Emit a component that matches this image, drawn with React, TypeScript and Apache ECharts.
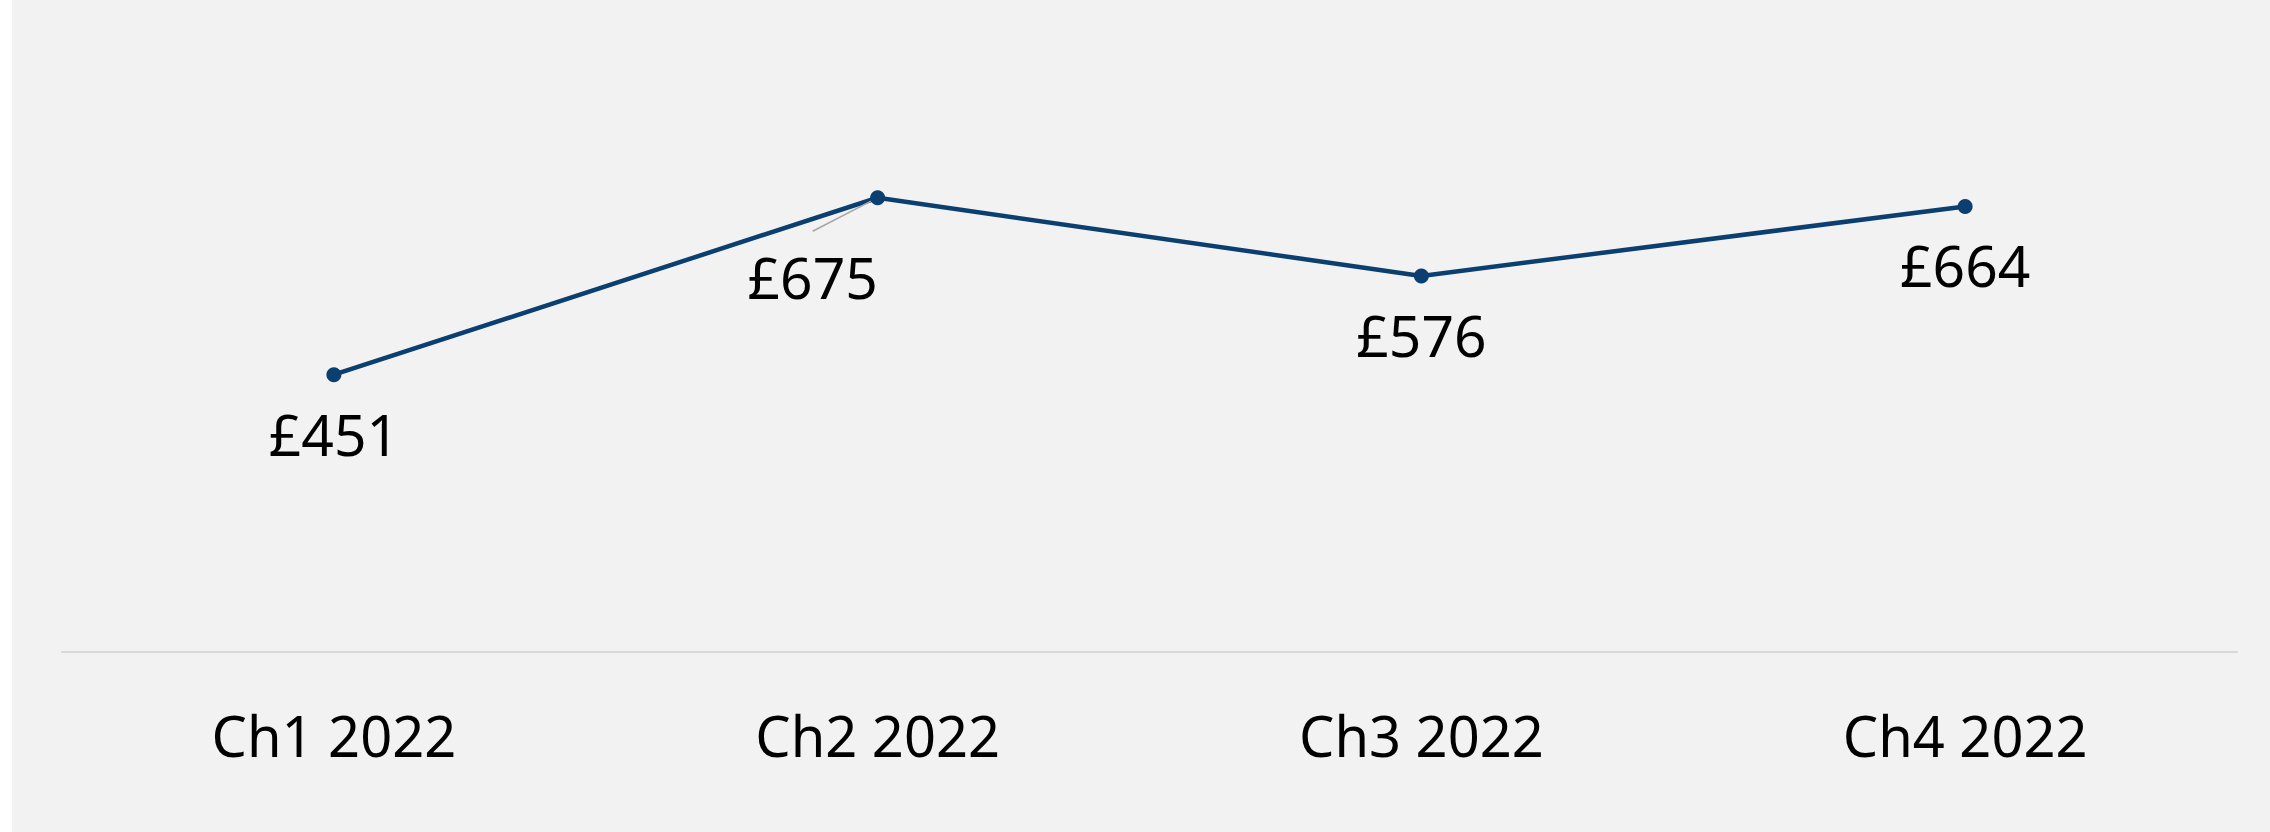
import React, { useEffect, useRef } from "react";
import * as echarts from "echarts";

const categories = ["Ch1 2022", "Ch2 2022", "Ch3 2022", "Ch4 2022"];
const values = [451, 675, 576, 664];
const yMin = 100;
const yMax = 900;

export default function App() {
  const ref = useRef<HTMLDivElement>(null);
  useEffect(() => {
    if (!ref.current) return;
    const chart = echarts.init(ref.current, undefined, { renderer: "svg" });
    const font = "'Noto Sans', sans-serif";
    chart.setOption({
      animation: false,
      backgroundColor: "#f2f2f2",
      grid: { left: 50, right: 33, top: 20, bottom: 180 },
      xAxis: {
        type: "category",
        data: categories,
        boundaryGap: true,
        axisLine: { show: true, lineStyle: { color: "#d9d9d9", width: 2 } },
        axisTick: { show: false },
        axisLabel: { color: "#000", fontSize: 56, fontFamily: font, margin: 55 },
        splitLine: { show: false },
      },
      yAxis: {
        type: "value",
        min: yMin,
        max: yMax,
        show: false,
        splitLine: { show: false },
      },
      series: [
        {
          type: "line",
          data: values.map((v, i) =>
            i === 1
              ? { value: v, labelLine: { show: true, length2: 0, lineStyle: { color: "#a6a6a6", width: 1.5 } } }
              : { value: v }
          ),
          symbol: "circle",
          symbolSize: 15,
          lineStyle: { color: "#0b3f70", width: 4.5 },
          itemStyle: { color: "#0b3f70" },
          label: {
            show: true,
            position: "bottom",
            distance: 6,
            padding: [17, 0, 40, 0],
            color: "#000",
            fontSize: 57,
            lineHeight: 57,
            fontFamily: font,
            formatter: (p: any) => "£" + p.value,
          },
          labelLayout: (p: any) => (p.dataIndex === 1 ? { dx: -65, dy: 20 } : {}),
        },
      ],
    });
    return () => chart.dispose();
  }, []);
  return (
    <div style={{ position: "fixed", left: 0, top: 0, width: 2270, height: 832, background: "#fff" }}>
      <div ref={ref} style={{ position: "absolute", left: 12, top: 0, width: 2258, height: 832 }} />
    </div>
  );
}
